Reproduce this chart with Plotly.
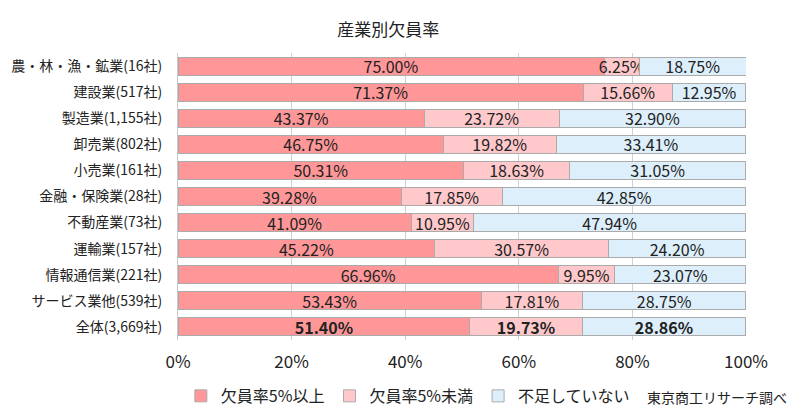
import plotly.graph_objects as go

categories = ["農・林・漁・鉱業(16社)", "建設業(517社)", "製造業(1,155社)", "卸売業(802社)",
              "小売業(161社)", "金融・保険業(28社)", "不動産業(73社)", "運輸業(157社)",
              "情報通信業(221社)", "サービス業他(539社)", "全体(3,669社)"]
over5 = [75.00, 71.37, 43.37, 46.75, 50.31, 39.28, 41.09, 45.22, 66.96, 53.43, 51.40]
under5 = [6.25, 15.66, 23.72, 19.82, 18.63, 17.85, 10.95, 30.57, 9.95, 17.81, 19.73]
none = [18.75, 12.95, 32.90, 33.41, 31.05, 42.85, 47.94, 24.20, 23.07, 28.75, 28.86]
series_names = ["欠員率5%以上", "欠員率5%未満", "不足していない"]
tick_vals = [0, 20, 40, 60, 80, 100]
tick_text = ["0%", "20%", "40%", "60%", "80%", "100%"]

colors = ["#FF9799", "#FFC9CB", "#DDEFFB"]
FONT = "Noto Sans CJK JP"

def labels(vals):
    out = []
    for i, v in enumerate(vals):
        s = f"{v:.2f}%"
        if i == len(vals) - 1:
            s = f"<b>{s}</b>"
        out.append(s)
    return out

fig = go.Figure()
for name, vals, c in zip(series_names, [over5, under5, none], colors):
    fig.add_trace(go.Bar(
        y=categories, x=vals, name=name, orientation="h",
        marker=dict(color=c, line=dict(color="#ABABAB", width=1)),
        text=labels(vals), textposition="inside", insidetextanchor="middle",
        textfont=dict(color="#222222", size=16, family=FONT),
        constraintext="none", cliponaxis=False, width=0.69,
    ))

fig.update_layout(
    barmode="stack",
    width=792, height=411,
    margin=dict(l=170, r=54, t=45, b=79, autoexpand=False),
    paper_bgcolor="white", plot_bgcolor="white",
    font=dict(family=FONT, size=15, color="#222222"),
    title=dict(text="産業別欠員率", x=0.48, xanchor="center", y=0.946, yanchor="middle",
               font=dict(size=17, family=FONT, color="#222222")),
    uniformtext=dict(minsize=16, mode="show"),
    legend=dict(orientation="h", x=0.005, xanchor="left", y=-0.195, yanchor="middle",
                font=dict(size=16, family=FONT), traceorder="normal",
                itemwidth=30, tracegroupgap=0),
    showlegend=True,
)
fig.update_xaxes(range=[0, 100], tickvals=tick_vals, ticktext=tick_text,
                 showgrid=True, gridcolor="#D0D0D0", gridwidth=1,
                 zeroline=False, showline=False, ticks="", ticklen=0,
                 ticklabelstandoff=10, automargin=False,
                 tickfont=dict(size=17, family=FONT))
fig.update_yaxes(autorange="reversed", showgrid=False, showline=True, linecolor="#C8C8C8",
                 ticks="", ticklabelstandoff=12, automargin=False,
                 tickfont=dict(size=14, family=FONT))
fig.add_annotation(text="東京商工リサーチ調べ", xref="paper", yref="paper",
                   x=0.949, y=-0.2, xanchor="center", yanchor="middle", showarrow=False,
                   font=dict(size=14, family=FONT, color="#222222"))
fig.write_html("out.html")
